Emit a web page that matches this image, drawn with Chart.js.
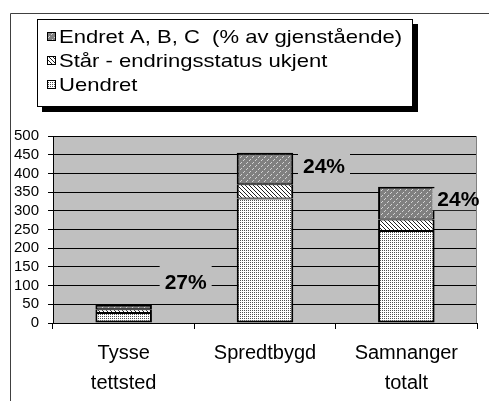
<!DOCTYPE html>
<html>
<head>
<meta charset="utf-8">
<script src="https://cdn.jsdelivr.net/npm/chart.js@4"></script>
<style>
  html, body { margin: 0; padding: 0; background: #fff; }
  canvas { display: block; }
</style>
</head>
<body>
<canvas id="chart" width="489" height="401"></canvas>
<script>
const categories = [["Tysse", "tettsted"], "Spredtbygd", ["Samnanger", "totalt"]];
const uendret = [27, 333, 246];
const staar = [10, 38, 31];
const endret = [12, 84, 87];
const pctLabels = ["27%", "24%", "24%"];
const seriesNames = ["Endret A, B, C  (% av gjenstående)", "Står - endringsstatus ukjent", "Uendret"];
const yTicks = [0, 50, 100, 150, 200, 250, 300, 350, 400, 450, 500];

// where the percentage labels sit (px offset from category centre, y in value units, box half-height)
const labelSpots = [
  { dx: 62, yv: 110, hh: 21 },
  { dx: 59, yv: 420, hh: 15 },
  { dx: 52, yv: 331, hh: 11 },
];

const FONT = "'Liberation Sans', Arial, sans-serif";

function makePattern(size, bg, fg, pts) {
  const c = document.createElement("canvas");
  c.width = size;
  c.height = size;
  const g = c.getContext("2d");
  g.fillStyle = bg;
  g.fillRect(0, 0, size, size);
  g.fillStyle = fg;
  pts.forEach(([x, y]) => g.fillRect(x, y, 1, 1));
  return g.createPattern(c, "repeat");
}

const patUendret = makePattern(2, "#ffffff", "#505050", [[0, 0]]);
const patStaar = makePattern(4, "#ffffff", "#202020", [[0, 0], [1, 1], [2, 2], [3, 3]]);
const patEndret = makePattern(6, "#808080", "#d4d4d4", [[1, 0], [0, 1], [4, 3], [3, 4]]);
const legendFills = [patEndret, patStaar, patUendret];

const framePlugin = {
  id: "frame",
  beforeDraw(chart) {
    const { ctx, chartArea: a } = chart;
    ctx.save();
    ctx.fillStyle = "#ffffff";
    ctx.fillRect(0, 0, chart.width, chart.height);
    ctx.strokeStyle = "#404040";
    ctx.lineWidth = 1;
    ctx.beginPath();
    ctx.moveTo(10.5, chart.height);
    ctx.lineTo(10.5, 13.5);
    ctx.lineTo(chart.width, 13.5);
    ctx.stroke();
    ctx.fillStyle = "#c0c0c0";
    ctx.fillRect(a.left, a.top, a.right - a.left, a.bottom - a.top);
    ctx.restore();
  },
  afterDatasetsDraw(chart) {
    const { ctx, chartArea: a } = chart;
    const x = chart.scales.x;
    const y = chart.scales.y;
    ctx.save();
    ctx.strokeStyle = "#808080";
    ctx.beginPath();
    ctx.moveTo(Math.round(a.right) - 0.5, a.top);
    ctx.lineTo(Math.round(a.right) - 0.5, a.bottom);
    ctx.stroke();
    ctx.font = "bold 21px " + FONT;
    ctx.textAlign = "center";
    ctx.textBaseline = "middle";
    pctLabels.forEach((t, i) => {
      const s = labelSpots[i];
      const cx = x.getPixelForValue(i) + s.dx;
      const cy = y.getPixelForValue(s.yv);
      ctx.fillStyle = "#c0c0c0";
      const l = cx - 26;
      const r = Math.min(cx + 26, a.right - 1);
      ctx.fillRect(l, cy - s.hh, r - l, s.hh * 2);
      ctx.fillStyle = "#000000";
      ctx.fillText(t, cx, cy + 1);
    });
    ctx.restore();
  },
  afterDraw(chart) {
    const ctx = chart.ctx;
    ctx.save();
    // legend box with shadow
    ctx.fillStyle = "#000000";
    ctx.fillRect(42, 24, 376, 88);
    ctx.fillStyle = "#ffffff";
    ctx.fillRect(37, 19, 376, 88);
    ctx.strokeStyle = "#000000";
    ctx.lineWidth = 1;
    ctx.strokeRect(37.5, 19.5, 375, 87);
    ctx.font = "19px " + FONT;
    ctx.textBaseline = "alphabetic";
    ctx.textAlign = "left";
    seriesNames.forEach((name, i) => {
      const base = 43 + i * 24;
      ctx.fillStyle = legendFills[i];
      ctx.fillRect(47, base - 11, 9, 9);
      ctx.strokeStyle = "#000000";
      ctx.strokeRect(47.5, base - 10.5, 8, 8);
      ctx.fillStyle = "#000000";
      ctx.save();
      ctx.translate(59, base);
      ctx.scale(1.16, 1);
      ctx.fillText(name, 0, 0);
      ctx.restore();
    });
    ctx.restore();
  },
};

new Chart(document.getElementById("chart"), {
  type: "bar",
  data: {
    labels: categories,
    datasets: [
      {
        label: seriesNames[2],
        data: uendret,
        backgroundColor: patUendret,
        borderColor: "#000000",
        borderWidth: { top: 1, bottom: 2, left: 2, right: 2 },
        borderSkipped: false,
      },
      {
        label: seriesNames[1],
        data: staar,
        backgroundColor: patStaar,
        borderColor: "#000000",
        borderWidth: { top: 1, bottom: 1, left: 2, right: 2 },
        borderSkipped: false,
      },
      {
        label: seriesNames[0],
        data: endret,
        backgroundColor: patEndret,
        borderColor: "#000000",
        borderWidth: { top: 2, bottom: 1, left: 2, right: 2 },
        borderSkipped: false,
      },
    ],
  },
  options: {
    responsive: false,
    animation: false,
    devicePixelRatio: 1,
    barPercentage: 0.4,
    categoryPercentage: 1,
    layout: { padding: { left: 0, right: 12, top: 136, bottom: 0 } },
    plugins: {
      legend: { display: false },
      tooltip: { enabled: false },
    },
    scales: {
      x: {
        stacked: true,
        grid: {
          offset: true,
          drawOnChartArea: false,
          drawTicks: true,
          tickLength: 6,
          color: "#000000",
        },
        border: { color: "#000000", width: 1 },
        ticks: {
          color: "#000000",
          font: { family: FONT, size: 20, lineHeight: 1.5 },
          padding: 9,
          maxRotation: 0,
          autoSkip: false,
        },
        afterFit(scale) {
          scale.height = 78;
        },
      },
      y: {
        stacked: true,
        min: yTicks[0],
        max: yTicks[yTicks.length - 1],
        afterBuildTicks(scale) {
          scale.ticks = yTicks.map((v) => ({ value: v }));
        },
        grid: {
          color: "#000000",
          lineWidth: 1,
          tickLength: 5,
        },
        border: { color: "#000000", width: 1 },
        ticks: {
          color: "#000000",
          font: { family: FONT, size: 15, lineHeight: 1 },
          padding: 9,
          autoSkip: false,
        },
        afterFit(scale) {
          scale.width = 53;
        },
      },
    },
  },
  plugins: [framePlugin],
});
</script>
</body>
</html>
